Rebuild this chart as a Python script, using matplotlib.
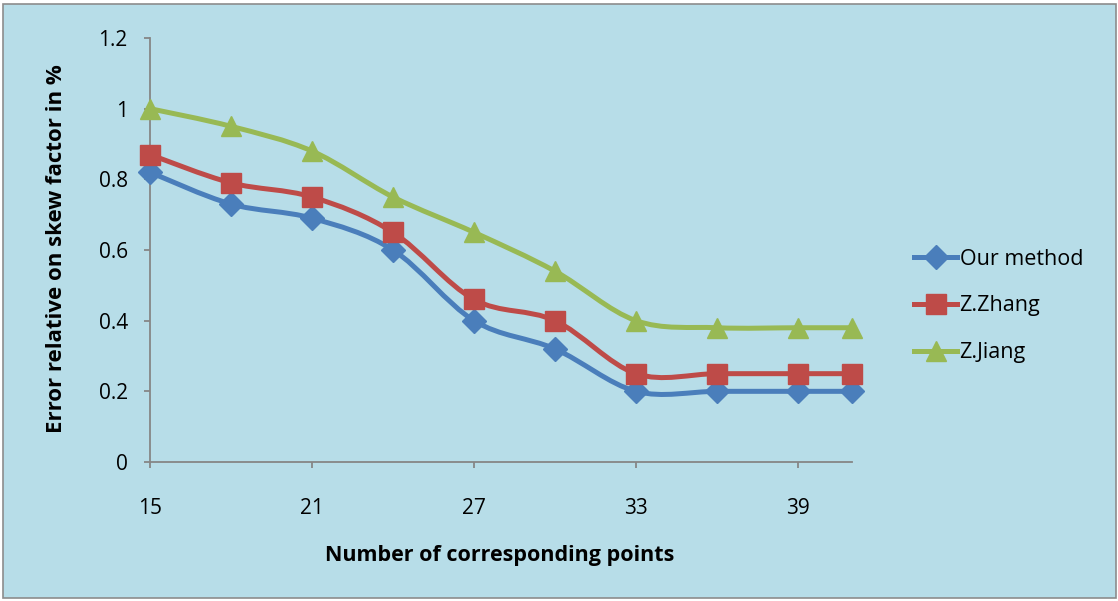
import numpy as np
import matplotlib.pyplot as plt
from matplotlib.path import Path
from matplotlib.patches import PathPatch, Rectangle
from matplotlib.lines import Line2D

# data
points = [15, 18, 21, 24, 27, 30, 33, 36, 39, 41]
our_method = [0.82, 0.73, 0.69, 0.60, 0.40, 0.32, 0.20, 0.20, 0.20, 0.20]
z_zhang = [0.87, 0.79, 0.75, 0.65, 0.46, 0.40, 0.25, 0.25, 0.25, 0.25]
z_jiang = [1.00, 0.95, 0.88, 0.75, 0.65, 0.54, 0.40, 0.38, 0.38, 0.38]
series_names = ['Our method', 'Z.Zhang', 'Z.Jiang']
x_ticks = [15, 21, 27, 33, 39]
y_ticks = [0, 0.2, 0.4, 0.6, 0.8, 1, 1.2]
y_tick_labels = ['0', '0.2', '0.4', '0.6', '0.8', '1', '1.2']

colors = ['#4A7EBB', '#BE4B48', '#98B954']
markers = ['D', 's', '^']
msizes = [12, 14, 14]
bg = '#B7DDE8'
font = 'Open Sans'
lw = 3.6


def smooth_path(x, y):
    """Excel-like smoothed line: cubic Bezier segments through the points"""
    x = np.asarray(x, float)
    y = np.asarray(y, float)
    verts = [(x[0], y[0])]
    codes = [Path.MOVETO]
    n = len(x)
    for i in range(n - 1):
        x0, y0 = (x[i - 1], y[i - 1]) if i > 0 else (x[i], y[i])
        x3, y3 = (x[i + 2], y[i + 2]) if i + 2 < n else (x[i + 1], y[i + 1])
        c1 = (x[i] + (x[i + 1] - x0) / 6, y[i] + (y[i + 1] - y0) / 6)
        c2 = (x[i + 1] - (x3 - x[i]) / 6, y[i + 1] - (y3 - y[i]) / 6)
        verts += [c1, c2, (x[i + 1], y[i + 1])]
        codes += [Path.CURVE4] * 3
    return Path(verts, codes)


fig = plt.figure(figsize=(11.18, 6.01), dpi=100)
fig.patch.set_facecolor('white')
fig.patches.append(Rectangle((0.003, 0.005), 0.995, 0.988, transform=fig.transFigure,
                             facecolor=bg, edgecolor='#8C8C8C', linewidth=1.2,
                             zorder=-10))

ax = fig.add_axes([150 / 1118, 1 - 462 / 601, 702 / 1118, 424 / 601])
ax.set_facecolor('none')

for vals, c, m, ms in zip([our_method, z_zhang, z_jiang], colors, markers, msizes):
    ax.add_patch(PathPatch(smooth_path(points, vals), facecolor='none', edgecolor=c,
                           linewidth=lw, capstyle='round', joinstyle='round', zorder=2))
    ax.plot(points, vals, linestyle='none', marker=m, markersize=ms, color=c,
            markeredgecolor=c, zorder=3, clip_on=False)

ax.set_xlim(15, 41)
ax.set_ylim(0, 1.2)
ax.set_xticks(x_ticks)
ax.set_yticks(y_ticks)
ax.set_yticklabels(y_tick_labels)
for s in ['top', 'right']:
    ax.spines[s].set_visible(False)
for s in ['left', 'bottom']:
    ax.spines[s].set_color('#868686')
    ax.spines[s].set_linewidth(1.3)
ax.tick_params(axis='both', colors='#868686', length=4, width=1.3, labelcolor='black',
               labelsize=15)
ax.tick_params(axis='x', pad=22)
ax.tick_params(axis='y', pad=12)
for lab in ax.get_xticklabels() + ax.get_yticklabels():
    lab.set_fontfamily(font)

fig.text(500 / 1118, 1 - 555 / 601, 'Number of corresponding points', ha='center',
         va='center', fontsize=15.5, fontweight='bold', fontfamily=font)
fig.text(57 / 1118, 1 - 249 / 601, 'Error relative on skew factor in %', ha='center',
         va='center', rotation=90, fontsize=16, fontweight='bold', fontfamily=font)

handles = [Line2D([], [], color=c, marker=m, markersize=ms, linewidth=lw)
           for c, m, ms in zip(colors, markers, msizes)]
leg = fig.legend(handles, series_names, loc='center left',
                 bbox_to_anchor=(895 / 1118, 1 - 306 / 601), frameon=False,
                 prop={'family': font, 'size': 15.5}, handlelength=2.0,
                 handletextpad=0.1, labelspacing=1.2)

plt.savefig('out.png', dpi=100, facecolor=fig.get_facecolor())
